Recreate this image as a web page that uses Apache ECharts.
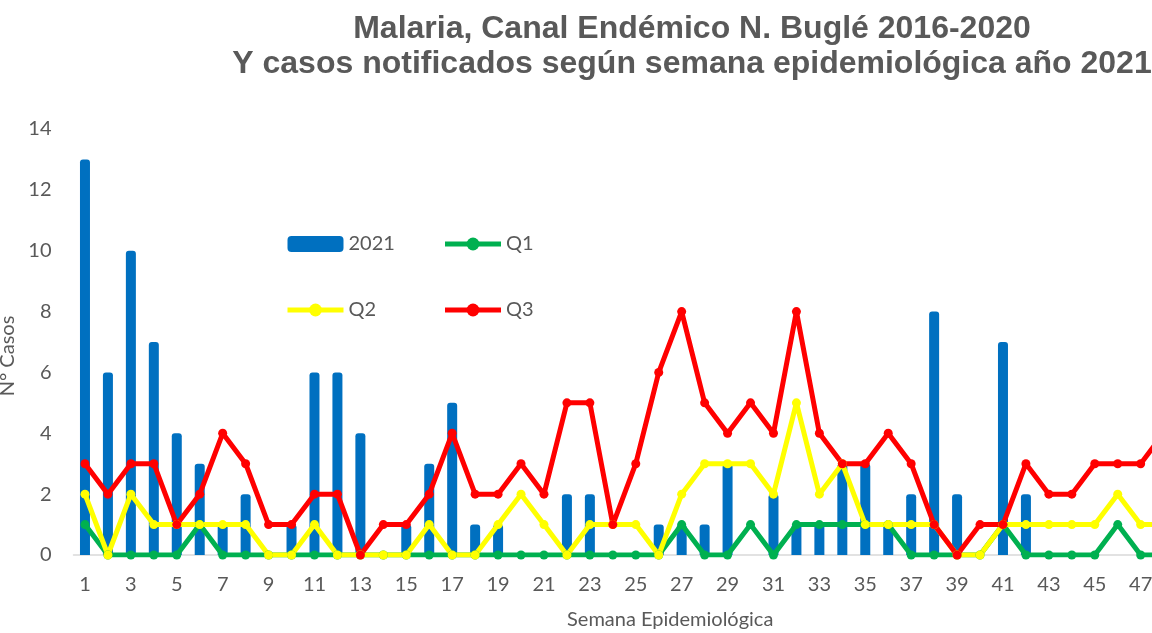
<!DOCTYPE html>
<html>
<head>
<meta charset="utf-8">
<script src="https://cdn.jsdelivr.net/npm/echarts@6/dist/echarts.min.js"></script>
<style>
html,body{margin:0;padding:0;background:#ffffff;overflow:hidden;width:1152px;height:633px;}
#chart{width:1300px;height:633px;}
</style>
</head>
<body>
<div id="chart"></div>
<script>
// Semana epidemiológica 1..52 (the picture shows weeks 1..47 and the start of 48)
var weeks = [];
for (var w = 1; w <= 52; w++) { weeks.push(String(w)); }

// 2021 notified cases (weeks 48+ not visible -> null)
var cases2021 = [13,6,10,7,4,3,1,2,0,1,6,6,4,0,1,3,5,1,1,0,0,2,2,0,0,1,1,1,3,0,2,1,1,3,3,1,2,8,2,0,7,2,0,0,0,0,0,null,null,null,null,null];
var q1 = [1,0,0,0,0,1,0,0,0,0,0,0,0,0,0,0,0,0,0,0,0,0,0,0,0,0,1,0,0,1,0,1,1,1,1,1,0,0,0,0,1,0,0,0,0,1,0,0,null,null,null,null];
var q2 = [2,0,2,1,1,1,1,1,0,0,1,0,0,0,0,1,0,0,1,2,1,0,1,1,1,0,2,3,3,3,2,5,2,3,1,1,1,1,0,0,1,1,1,1,1,2,1,1,null,null,null,null];
var q3 = [3,2,3,3,1,2,4,3,1,1,2,2,0,1,1,2,4,2,2,3,2,5,5,1,3,6,8,5,4,5,4,8,4,3,3,4,3,1,0,1,1,3,2,2,3,3,3,4,null,null,null,null];

var titleText = 'Malaria, Canal Endémico N. Buglé 2016-2020\nY casos notificados según semana epidemiológica año 2021';
var yTicks = {min: 0, max: 14, interval: 2};

var TXT = '#595959';
var FONT = 'Lato';

var chart = echarts.init(document.getElementById('chart'), null, {renderer: 'canvas'});

function lineSeries(name, data, color) {
  return {
    name: name,
    type: 'line',
    data: data,
    symbol: 'circle',
    symbolSize: 9,
    lineStyle: {color: color, width: 5},
    itemStyle: {color: color},
    emphasis: {disabled: true},
    clip: true,
    animation: false
  };
}

chart.setOption({
  animation: false,
  backgroundColor: '#ffffff',
  textStyle: {fontFamily: FONT},
  title: {
    text: titleText,
    left: 692,
    top: 12,
    padding: 0,
    textAlign: 'center',
    textStyle: {
      fontFamily: 'Liberation Sans',
      fontWeight: 'bold',
      fontSize: 32,
      lineHeight: 35,
      color: TXT
    }
  },
  legend: {
    left: 285,
    top: 234,
    padding: 0,
    width: 300,
    itemWidth: 56,
    itemHeight: 16,
    itemGap: 46,
    lineStyle: {width: 5},
    textStyle: {color: TXT, fontSize: 20, fontFamily: FONT, width: 48, lineHeight: 20},
    data: [
      {name: '2021', icon: 'roundRect'},
      {name: 'Q1'},
      {name: 'Q2'},
      {name: 'Q3'}
    ]
  },
  grid: {
    left: 73.5,
    right: 33.1,
    top: 129,
    bottom: 78,
    containLabel: false,
    outerBoundsMode: 'none'
  },
  xAxis: {
    type: 'category',
    data: weeks,
    boundaryGap: true,
    name: 'Semana Epidemiológica',
    nameLocation: 'middle',
    nameGap: 55,
    nameTextStyle: {color: TXT, fontSize: 20, fontFamily: FONT},
    axisLine: {show: true, lineStyle: {color: '#d9d9d9', width: 1.5}},
    axisTick: {show: false},
    axisLabel: {color: TXT, fontSize: 20, fontFamily: FONT, interval: 1, margin: 20},
    splitLine: {show: false}
  },
  yAxis: {
    type: 'value',
    min: yTicks.min,
    max: yTicks.max,
    interval: yTicks.interval,
    name: 'N° Casos',
    nameLocation: 'middle',
    nameGap: 37,
    nameRotate: 90,
    nameTextStyle: {color: TXT, fontSize: 20, fontFamily: FONT, padding: [0, 28, 0, 0]},
    axisLine: {show: false},
    axisTick: {show: false},
    axisLabel: {color: TXT, fontSize: 20, fontFamily: FONT, margin: 22},
    splitLine: {show: false}
  },
  series: [
    {
      name: '2021',
      type: 'bar',
      data: cases2021,
      barWidth: 10,
      itemStyle: {color: '#0070C0', borderRadius: [3, 3, 0, 0]},
      emphasis: {disabled: true},
      animation: false
    },
    lineSeries('Q1', q1, '#00B050'),
    lineSeries('Q2', q2, '#FFFF00'),
    lineSeries('Q3', q3, '#FF0000')
  ]
});
</script>
</body>
</html>
